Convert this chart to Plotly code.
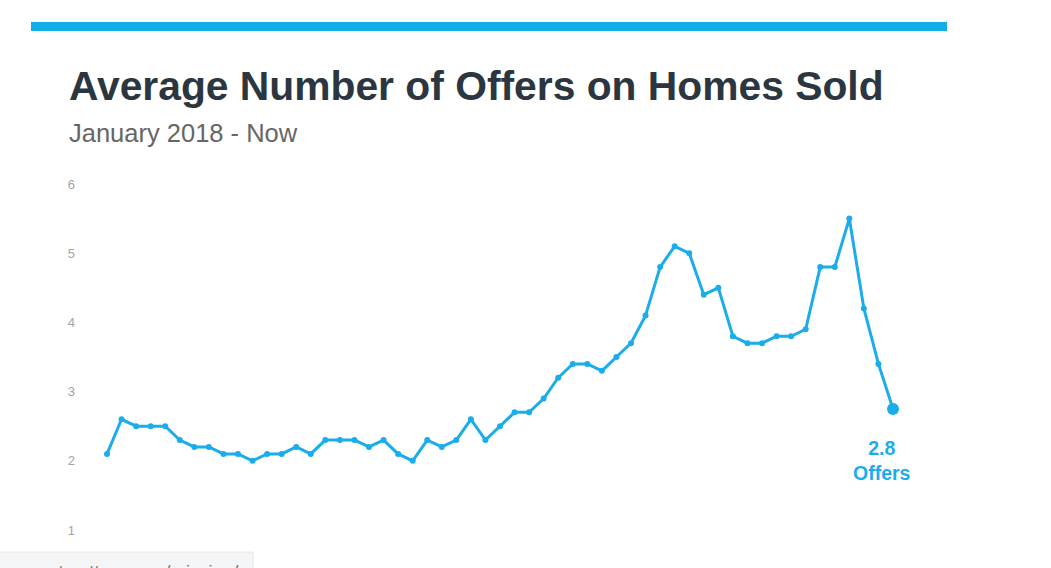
import plotly.graph_objects as go

# ---- data ----
months = [f"{y}-{m:02d}" for y in range(2018, 2023) for m in range(1, 13)][:55]
offers = [
    2.1, 2.6, 2.5, 2.5, 2.5, 2.3, 2.2, 2.2, 2.1, 2.1, 2.0, 2.1,
    2.1, 2.2, 2.1, 2.3, 2.3, 2.3, 2.2, 2.3, 2.1, 2.0, 2.3, 2.2,
    2.3, 2.6, 2.3, 2.5, 2.7, 2.7, 2.9, 3.2, 3.4, 3.4, 3.3, 3.5,
    3.7, 4.1, 4.8, 5.1, 5.0, 4.4, 4.5, 3.8, 3.7, 3.7, 3.8, 3.8,
    3.9, 4.8, 4.8, 5.5, 4.2, 3.4, 2.75,
]
y_ticks = [1, 2, 3, 4, 5, 6]
title_text = "Average Number of Offers on Homes Sold"
subtitle_text = "January 2018 - Now"
last_label = "2.8<br>Offers"
status_text = "currentmatters.com/mission/"

# ---- layout geometry (pixels) ----
W, H = 1051, 568
L, R, T, B = 76, 100, 184, 38
first_px, last_px = 107, 893
plot_w = W - L - R
plot_h = H - T - B
step = (last_px - first_px) / (len(offers) - 1)
x_lo = -(first_px - L) / step
x_hi = (len(offers) - 1) + ((W - R) - last_px) / step

def px_x(px):
    return (px - L) / plot_w

def px_y(py):
    return (H - B - py) / plot_h

BLUE = "#1badea"
FONT = "Liberation Sans, Arial, sans-serif"

fig = go.Figure()
fig.add_trace(go.Scatter(
    x=months, y=offers, mode="lines+markers",
    line=dict(color=BLUE, width=3),
    marker=dict(color=BLUE, size=6),
    hoverinfo="skip", showlegend=False,
))
fig.add_trace(go.Scatter(
    x=[months[len(offers) - 1]], y=[offers[-1]], mode="markers",
    marker=dict(color=BLUE, size=12),
    hoverinfo="skip", showlegend=False,
))

fig.update_layout(
    width=W, height=H,
    margin=dict(l=L, r=R, t=T, b=B),
    paper_bgcolor="white", plot_bgcolor="white",
    font=dict(family=FONT),
    xaxis=dict(type="category", range=[x_lo, x_hi], visible=False),
    yaxis=dict(range=[1, 6], tickvals=y_ticks, showgrid=False, zeroline=False,
               showline=False, ticks="", tickfont=dict(size=13, color="#a3a3a3")),
    shapes=[
        dict(type="rect", xref="paper", yref="paper",
             x0=px_x(31), x1=px_x(947), y0=px_y(31), y1=px_y(22),
             fillcolor="#12aeea", line=dict(width=0)),
        dict(type="rect", xref="paper", yref="paper",
             x0=px_x(-10), x1=px_x(253), y0=px_y(590), y1=px_y(552),
             fillcolor="#f4f5f7", line=dict(color="#e6e8eb", width=1)),
    ],
    annotations=[
        dict(text=f"<b>{title_text}</b>", xref="paper", yref="paper",
             x=px_x(67), y=px_y(86), xanchor="left", yanchor="middle",
             showarrow=False, font=dict(size=40.8, color="#2b3640")),
        dict(text=subtitle_text, xref="paper", yref="paper",
             x=px_x(67), y=px_y(133), xanchor="left", yanchor="middle",
             showarrow=False, font=dict(size=25.5, color="#666666")),
        dict(text=f"<b>{last_label}</b>", x=months[len(offers) - 1], y=offers[-1],
             xanchor="center", yanchor="top", xshift=-11, yshift=-26,
             showarrow=False, align="center",
             font=dict(size=19.5, color=BLUE)),
        dict(text=status_text, xref="paper", yref="paper",
             x=px_x(4), y=px_y(571), xanchor="left", yanchor="middle",
             showarrow=False, font=dict(size=18.5, color="#777777")),
    ],
)

fig.write_html(
    "out.html",
    config={"displayModeBar": False},
    post_script="document.body.style.margin='0';document.body.style.padding='0';",
)
